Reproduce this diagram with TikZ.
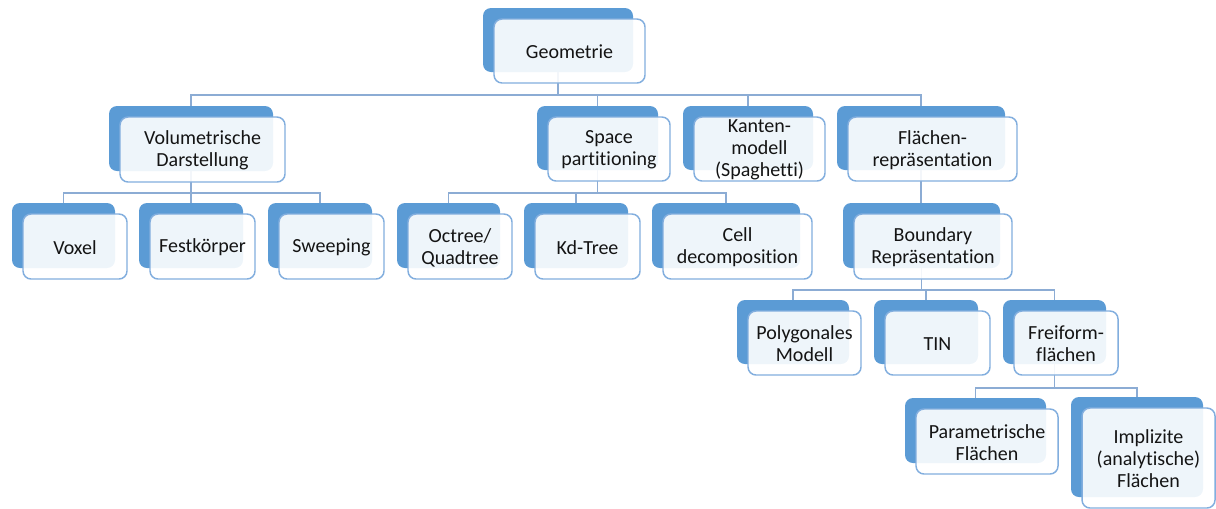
\documentclass[tikz,border=0pt]{standalone}
\usepackage{fontspec}
\setmainfont{Carlito}[Ligatures=NoCommon]
\usetikzlibrary{fit,backgrounds,calc}
\definecolor{bblue}{RGB}{91,155,213}
\definecolor{fborder}{RGB}{130,174,222}
\definecolor{lnk}{RGB}{140,172,212}
\definecolor{txt}{RGB}{20,20,20}
\tikzset{
  backbox/.style={fill=bblue, draw=none, rounded corners=6pt, inner sep=0pt, outer sep=0pt},
  frontbox/.style={fill=white, fill opacity=0.9, draw=fborder, draw opacity=1, line width=1.1pt,
     rounded corners=6pt, inner sep=0pt, outer sep=0pt},
  label text/.style={align=center, text=txt, inner sep=0pt,
     font=\fontsize{15pt}{16.5pt}\selectfont},
  link/.style={draw=lnk, line width=1.2pt}
}
\newcommand\tnode[6]{%
  \node[backbox, fit={(#2,#3) (#4,#5)}] (#1) {};
  \node[frontbox, fit={(#2+11,#3+11) (#4+12,#5+11)}] (#1-f) {};
  \node[label text] (#1-t) at ($(#1-f.center)+(0,1)$) {#6};
}
\begin{document}
\begin{tikzpicture}[x=0.75pt,y=-0.75pt]
\useasboundingbox (0,0) rectangle (1216,508);
\tnode{geo}{483}{8}{633}{72}{Geometrie}
\tnode{vol}{109}{106}{273}{171}{Volumetrische\\Darstellung}
\tnode{spa}{537}{106}{658}{170}{Space\\partitioning}
\tnode{kan}{683}{106}{813}{170}{Kanten-\\modell\\(Spaghetti)}
\tnode{fla}{837}{106}{1005}{170}{Flächen-\\repräsentation}
\tnode{vox}{12}{203}{115}{268}{Voxel}
\tnode{fes}{139}{203}{243}{268}{Festkörper}
\tnode{swe}{268}{203}{372}{268}{Sweeping}
\tnode{oct}{397}{203}{500}{268}{Octree/\\Quadtree}
\tnode{kd}{524}{203}{628}{268}{Kd-Tree}
\tnode{cel}{652}{203}{800}{268}{Cell\\decomposition}
\tnode{bou}{843}{203}{1000}{268}{Boundary\\Repräsentation}
\tnode{pol}{737}{300}{849}{364}{Polygonales\\Modell}
\tnode{tin}{874}{300}{978}{364}{TIN}
\tnode{fre}{1003}{300}{1106}{364}{Freiform-\\flächen}
\tnode{par}{905}{398}{1046}{463}{Parametrische\\Flächen}
\tnode{imp}{1071}{397}{1203}{497}{Implizite\\(analytische)\\Flächen}
\coordinate (b1) at (0,95);
\coordinate (b2) at (0,193);
\coordinate (b3) at (0,290);
\coordinate (b4) at (0,388);
\begin{scope}[on background layer]
\foreach \c in {vol,spa,kan,fla}
  \draw[link] (geo.south) -- (geo.south |- b1) -| (\c.north);
\foreach \c in {vox,fes,swe}
  \draw[link] (vol.south) -- (vol.south |- b2) -| (\c.north);
\foreach \c in {oct,kd,cel}
  \draw[link] (spa.south) -- (spa.south |- b2) -| (\c.north);
\draw[link] (fla.south) -- (fla.south |- bou.north);
\foreach \c in {pol,tin,fre}
  \draw[link] (bou.south) -- (bou.south |- b3) -| (\c.north);
\foreach \c in {par,imp}
  \draw[link] (fre.south) -- (fre.south |- b4) -| (\c.north);
\end{scope}
\end{tikzpicture}
\end{document}
